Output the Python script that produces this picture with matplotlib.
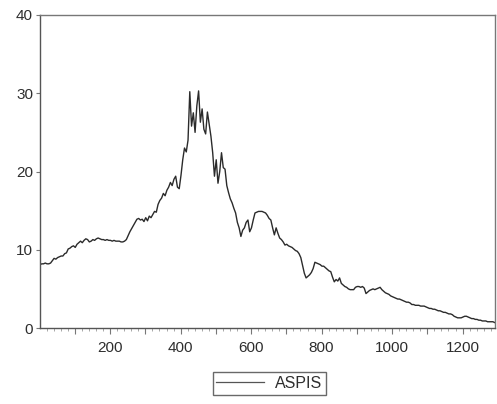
import numpy as np
import matplotlib
matplotlib.use("Agg")
import matplotlib.pyplot as plt
from matplotlib.ticker import MultipleLocator, FixedLocator

plt.rcParams['font.family'] = ['Liberation Sans', 'DejaVu Sans']

series_name = "ASPIS"
obs_start = 1
obs_step = 5
aspis = [
    8.1, 8.2, 8.2, 8.3, 8.2, 8.2, 8.3, 8.6, 8.9, 8.8,
    9.0, 9.1, 9.2, 9.2, 9.5, 9.6, 10.1, 10.2, 10.4, 10.5,
    10.3, 10.7, 10.9, 11.1, 10.9, 11.2, 11.4, 11.3, 11.0, 11.1,
    11.3, 11.2, 11.4, 11.5, 11.4, 11.3, 11.3, 11.2, 11.3, 11.2,
    11.2, 11.1, 11.2, 11.1, 11.1, 11.1, 11.0, 11.0, 11.1, 11.3,
    11.8, 12.3, 12.7, 13.1, 13.5, 13.9, 14.0, 13.8, 13.9, 13.6,
    14.1, 13.7, 14.3, 14.1, 14.5, 14.9, 14.8, 15.8, 16.3, 16.6,
    17.2, 16.9, 17.6, 18.0, 18.6, 18.2, 19.0, 19.4, 18.0, 17.8,
    19.5, 21.5, 23.0, 22.5, 24.0, 30.2, 25.8, 27.5, 25.0, 28.4,
    30.3, 26.3, 28.0, 25.4, 24.8, 27.6, 26.0, 24.5, 22.4, 19.4,
    21.5, 18.5, 20.0, 22.4, 20.5, 20.3, 18.2, 17.3, 16.5, 16.0,
    15.3, 14.7, 13.5, 12.8, 11.7, 12.5, 12.8, 13.5, 13.8, 12.3,
    12.8, 13.8, 14.7, 14.8, 14.9, 14.9, 14.9, 14.8, 14.7, 14.4,
    14.0, 13.8, 12.8, 11.9, 12.8, 12.1, 11.5, 11.3, 11.0, 10.6,
    10.7, 10.5, 10.4, 10.3, 10.1, 9.9, 9.8, 9.5, 9.0, 8.0,
    7.0, 6.4, 6.6, 6.8, 7.1, 7.6, 8.4, 8.3, 8.2, 8.1,
    7.9, 7.9, 7.7, 7.5, 7.3, 7.2, 6.5, 5.9, 6.2, 6.0,
    6.4, 5.7, 5.5, 5.3, 5.2, 5.0, 4.9, 4.9, 4.9, 5.2,
    5.3, 5.3, 5.2, 5.3, 5.1, 4.4, 4.6, 4.8, 4.9, 5.0,
    4.9, 5.0, 5.1, 5.2, 4.9, 4.7, 4.5, 4.4, 4.3, 4.1,
    4.0, 3.9, 3.8, 3.7, 3.7, 3.6, 3.5, 3.4, 3.3, 3.3,
    3.2, 3.0, 3.0, 2.9, 2.9, 2.9, 2.8, 2.8, 2.8, 2.7,
    2.6, 2.5, 2.5, 2.4, 2.4, 2.3, 2.2, 2.2, 2.1, 2.0,
    2.0, 1.9, 1.8, 1.8, 1.7, 1.5, 1.4, 1.3, 1.3, 1.3,
    1.4, 1.5, 1.5, 1.4, 1.3, 1.2, 1.2, 1.1, 1.1, 1.0,
    1.0, 0.9, 0.9, 0.9, 0.8, 0.8, 0.8, 0.8, 0.7,
]
obs = obs_start + obs_step * np.arange(len(aspis))

x_labels = [200, 400, 600, 800, 1000, 1200]
y_ticks = [0, 10, 20, 30, 40]

fig = plt.figure(figsize=(4.97, 4.04), dpi=100)
ax = fig.add_axes([40 / 497, 76 / 404, 455 / 497, 313 / 404])

line, = ax.plot(obs, aspis, color="#2b2b2b", linewidth=1.0, label=series_name)

ax.set_xlim(1, 1292)
ax.set_ylim(0, 40)

ax.xaxis.set_major_locator(FixedLocator(list(range(100, 1300, 100))))
ax.set_xticklabels([str(v) if v in x_labels else "" for v in range(100, 1300, 100)])
ax.xaxis.set_minor_locator(MultipleLocator(20))
ax.set_yticks(y_ticks)
ax.set_yticklabels([str(v) for v in y_ticks])

ax.tick_params(axis="x", which="major", direction="out", length=4, width=0.8,
               color="#777777", labelsize=11, labelcolor="#2e2e2e", pad=5)
ax.tick_params(axis="x", which="minor", direction="out", length=2, width=0.6,
               color="#999999")
ax.tick_params(axis="y", which="major", direction="out", length=3, width=0.8,
               color="#777777", labelsize=11, labelcolor="#2e2e2e", pad=2)

for s in ["left", "bottom"]:
    ax.spines[s].set_color("#555555")
    ax.spines[s].set_linewidth(1.0)
for s in ["top", "right"]:
    ax.spines[s].set_color("#777777")
    ax.spines[s].set_linewidth(1.0)

leg = fig.legend(handles=[line], loc="center", bbox_to_anchor=(269.5 / 497, 1 - 383.5 / 404),
                 frameon=True, fancybox=False, fontsize=11.5, handlelength=3.0,
                 handletextpad=0.7, borderpad=0.22, borderaxespad=0)
leg.get_frame().set_edgecolor("#444444")
leg.get_frame().set_linewidth(1.0)
for t in leg.get_texts():
    t.set_color("#2e2e2e")
for l in leg.get_lines():
    l.set_linewidth(0.9)
    l.set_color("#555555")

fig.savefig("out.png", dpi=100)
